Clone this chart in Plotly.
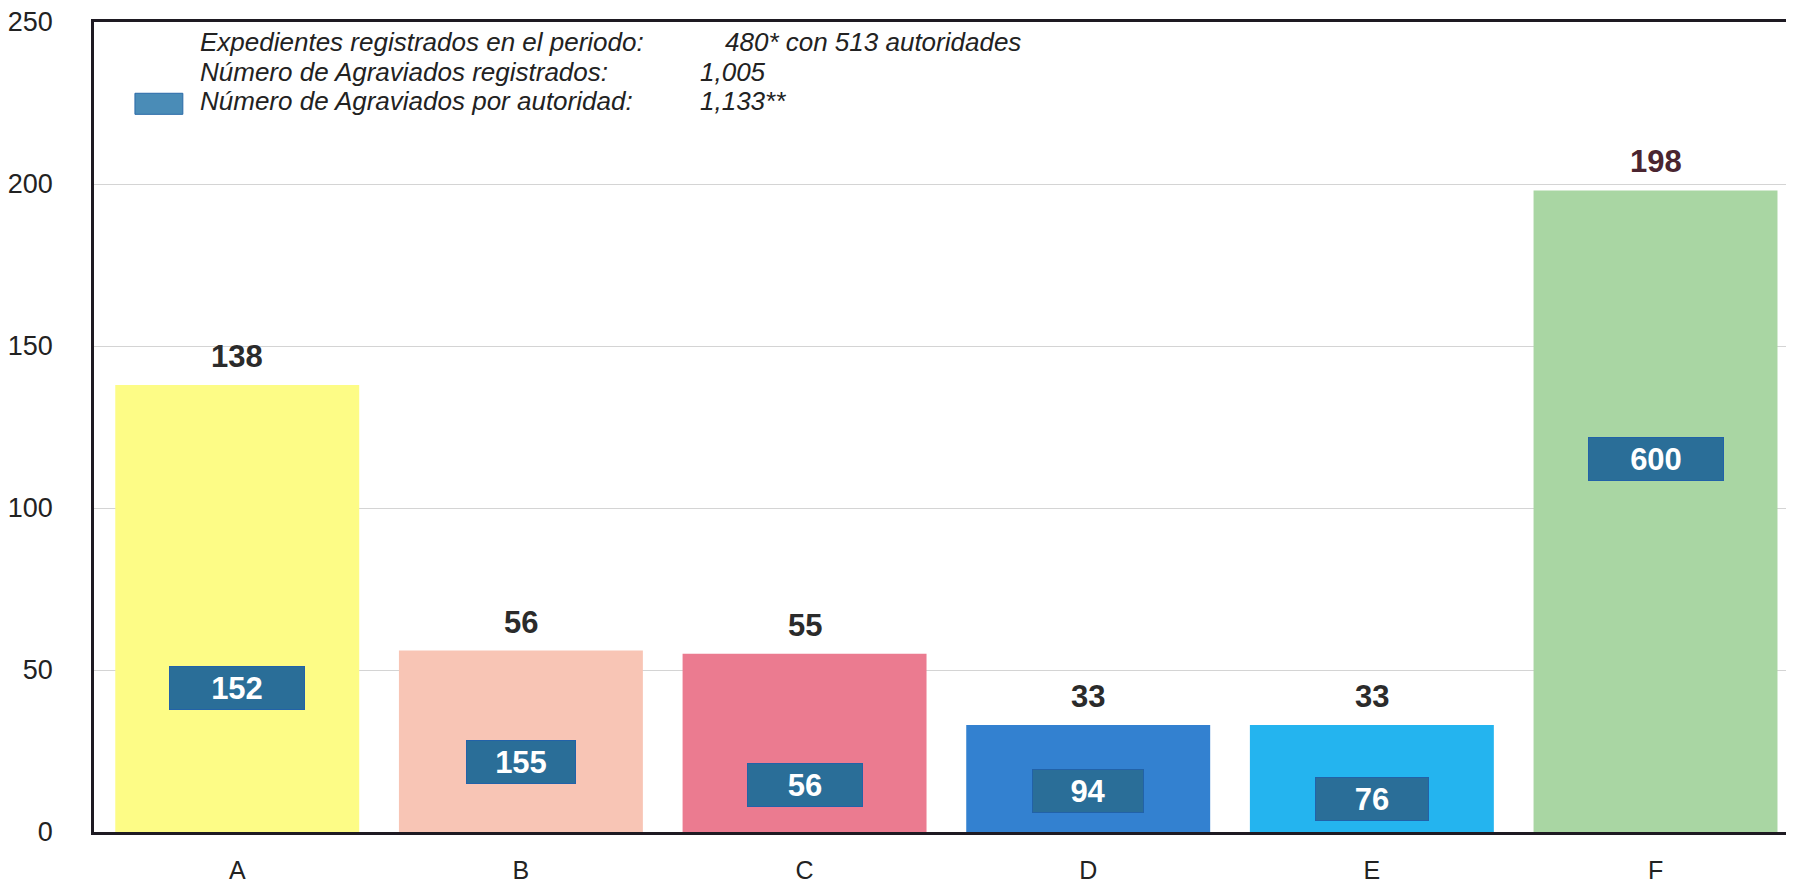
import plotly.graph_objects as go

# --- data ---
categories = ["A", "B", "C", "D", "E", "F"]
expedientes = [138, 56, 55, 33, 33, 198]
agraviados = [152, 155, 56, 94, 76, 600]

legend_left = [
    "Expedientes registrados en el periodo:",
    "Número de Agraviados registrados:",
    "Número de Agraviados por autoridad:",
]
legend_right = ["480* con 513 autoridades", "1,005", "1,133**"]

y_ticks = [0, 50, 100, 150, 200, 250]

# --- styling ---
BAR_COLORS = ["#fdfc86", "#f8c5b5", "#eb7b90", "#3381d0", "#24b4ef", "#a9d6a3"]
TOP_LABEL_COLORS = ["#2b2b2b"] * 5 + ["#4a2530"]
BOX_FILL = "#2a6e98"
BOX_EDGE = "#2262a8"
SWATCH = "#4a8cb7"
FONT = "Liberation Sans, Arial, sans-serif"

# height (data units) where each inner box is drawn
inner_label_y = [44.5, 21.7, 14.6, 12.7, 10.2, 115.1]
inner_box_w = [132, 106, 112, 108, 110, 132]

fig = go.Figure(
    go.Bar(
        x=categories,
        y=expedientes,
        marker=dict(color=BAR_COLORS, line=dict(width=0)),
        width=0.86,
        hoverinfo="x+y",
    )
)

for cat, val, col in zip(categories, expedientes, TOP_LABEL_COLORS):
    fig.add_annotation(
        x=cat, y=val, text=f"<b>{val}</b>", showarrow=False,
        yanchor="bottom", yshift=9,
        font=dict(family=FONT, size=31, color=col),
    )

for cat, val, ypos, w in zip(categories, agraviados, inner_label_y, inner_box_w):
    fig.add_annotation(
        x=cat, y=ypos, text=f"<b>{val}</b>", showarrow=False,
        width=w, height=40, bgcolor=BOX_FILL, bordercolor=BOX_EDGE,
        borderwidth=1, borderpad=1,
        font=dict(family=FONT, size=31, color="white"),
    )

# header text block (top-left of plot)
line_y = [0.975, 0.938, 0.902]
for left, right, yy, rx in zip(legend_left, legend_right, line_y, [0.372, 0.357, 0.357]):
    fig.add_annotation(
        x=0.0615, y=yy, xref="paper", yref="paper", text=f"<i>{left}</i>",
        showarrow=False, xanchor="left", yanchor="middle",
        font=dict(family=FONT, size=26, color="#222222"),
    )
    fig.add_annotation(
        x=rx, y=yy, xref="paper", yref="paper", text=f"<i>{right}</i>",
        showarrow=False, xanchor="left", yanchor="middle",
        font=dict(family=FONT, size=26, color="#222222"),
    )

fig.add_shape(
    type="rect", xref="paper", yref="paper",
    x0=0.0242, x1=0.0525, y0=0.886, y1=0.912,
    fillcolor=SWATCH, line=dict(color="#2a6aa8", width=1),
)

# page body keeps an 8px margin, so the figure starts at (8, 8)
fig.update_layout(
    width=1778,
    height=877,
    margin=dict(l=86, r=0, t=14, b=53),
    paper_bgcolor="white",
    plot_bgcolor="white",
    showlegend=False,
    font=dict(family=FONT, size=26, color="#222222"),
)
fig.update_xaxes(
    range=[-0.505, 5.46],
    automargin=False,
    showline=True, linecolor="#1e1a22", linewidth=2.5, mirror=True,
    ticks="outside", ticklen=14, tickcolor="rgba(0,0,0,0)",
    tickfont=dict(size=25, color="#222222"),
    showgrid=False,
)
fig.update_yaxes(
    range=[0, 250], tickvals=y_ticks,
    automargin=False,
    showline=True, linecolor="#1e1a22", linewidth=2.5,
    showgrid=True, gridcolor="#d4d4d4", gridwidth=1,
    zeroline=False,
    ticks="outside", ticklen=33, tickcolor="rgba(0,0,0,0)",
    tickfont=dict(size=27, color="#222222"),
    ticklabeloverflow="allow",
)

fig.write_html("out.html")
